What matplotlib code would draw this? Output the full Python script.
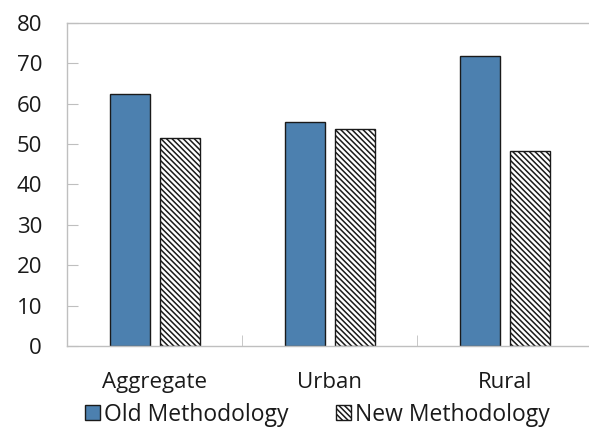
import numpy as np
import matplotlib.pyplot as plt
from matplotlib.ticker import FixedLocator

plt.rcParams['font.family'] = ['Open Sans', 'DejaVu Sans']
plt.rcParams['hatch.linewidth'] = 1.1

# Data
categories = ['Aggregate', 'Urban', 'Rural']
old_method = [62.5, 55.5, 71.9]
new_method = [51.4, 53.8, 48.2]

fig = plt.figure(figsize=(5.89, 4.30), dpi=100)
ax = fig.add_axes([67 / 589, (430 - 346) / 430, (589 - 67) / 589, 323 / 430])

x = np.arange(len(categories))
w = 0.228
off = 0.143

ax.bar(x - off, old_method, w, color='#4C80AF', edgecolor='#1a1a1a',
       linewidth=1.0, label='Old Methodology')
ax.bar(x + off, new_method, w, color='white', edgecolor='#1a1a1a',
       linewidth=1.0, hatch='\\' * 6, label='New Methodology')

ax.set_xlim(-0.5, 2.48)
ax.set_ylim(0, 80)
ax.set_yticks(range(0, 81, 10))
ax.set_xticks(x)
ax.set_xticklabels(categories)
ax.xaxis.set_minor_locator(FixedLocator([0.5, 1.5]))

grey = '#BFBFBF'
for side in ['left', 'bottom', 'top']:
    ax.spines[side].set_color(grey)
    ax.spines[side].set_linewidth(1.0)
ax.spines['right'].set_visible(False)

ax.tick_params(axis='y', direction='in', length=8, color=grey, pad=18,
               labelsize=16, labelcolor='#1a1a1a')
ax.tick_params(axis='x', which='major', length=0, pad=19,
               labelsize=16, labelcolor='#1a1a1a')
ax.tick_params(axis='x', which='minor', direction='in', length=8, color=grey)

leg = fig.legend(loc='center', bbox_to_anchor=(0.539, 0.036), ncol=2,
                 frameon=False, fontsize=16.5, handlelength=0.65,
                 handleheight=0.65, handletextpad=0.15, columnspacing=2.1,
                 borderpad=0)
for t in leg.get_texts():
    t.set_color('#1a1a1a')

fig.savefig('out.png', dpi=100)
